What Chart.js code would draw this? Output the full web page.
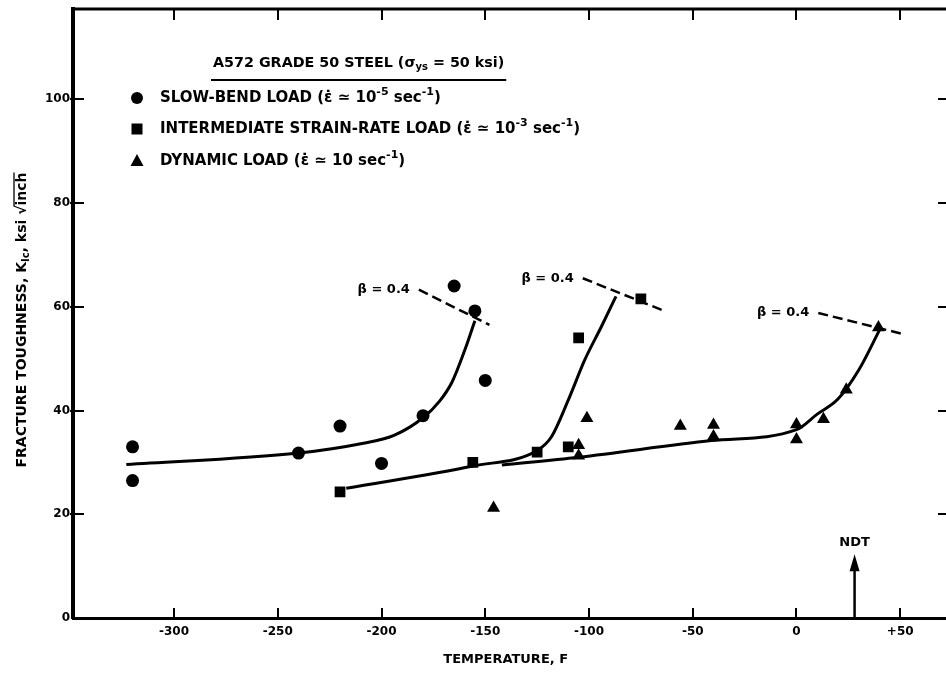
<!DOCTYPE html>
<html>
<head>
<meta charset="utf-8">
<script src="https://cdn.jsdelivr.net/npm/chart.js@4.4.1/dist/chart.umd.min.js"></script>
<style>
  body { margin: 0; background: #fff; }
  canvas { display: block; }
</style>
</head>
<body>
<canvas id="chartTenacidade" width="946" height="674"></canvas>
<script>
// temperatura (F) e tenacidade K_Ic (ksi sqrt(inch))
const slowTemp = [-320, -320, -240, -220, -200, -180, -165, -155, -150];
const slowK    = [33, 26.5, 31.8, 37, 29.8, 39, 64, 59.2, 45.8];

const interTemp = [-220, -156, -125, -110, -105, -75];
const interK    = [24.3, 30, 32, 33, 54, 61.5];

const dynTemp = [-146, -101, -105, -105, -56, -40, -40, 0, 0, 13, 24, 39.5];
const dynK    = [21.2, 38.5, 33.3, 31.3, 37, 37.2, 35, 37.3, 34.4, 38.3, 44, 56];

// curvas ajustadas (tracadas a mao na figura original)
const slowFitTemp = [-323, -240, -210, -194, -180, -172, -166, -160, -155];
const slowFitK    = [29.6, 31.8, 33.6, 35.2, 38.6, 41.8, 45.5, 51.5, 57.3];
const interFitTemp = [-217, -156, -125, -118, -110, -102, -94, -87];
const interFitK    = [25, 29.3, 32.3, 35, 42, 49.8, 56.2, 62];
const dynFitTemp = [-142, -105, -41, 0, 10, 20, 30, 40];
const dynFitK    = [29.5, 31, 34.2, 36.3, 39.3, 42.2, 47.8, 55.5];

// linhas tracejadas beta = 0.4
const beta1Temp = [-182, -148];
const beta1K    = [63.3, 56.5];
const beta2Temp = [-103, -65];
const beta2K    = [65.5, 59.4];
const beta3Temp = [10.5, 50.7];
const beta3K    = [58.8, 54.8];
const betaText = 'β = 0.4';

const ndtTemp = 28;
const xTicks = [-300, -250, -200, -150, -100, -50, 0, 50];
const yTicks = [0, 20, 40, 60, 80, 100];

const legendLabels = ['SLOW-BEND LOAD', 'INTERMEDIATE STRAIN-RATE LOAD', 'DYNAMIC LOAD'];
const legendExp = ['-5', '-3', ''];
const legendStyles = ['circle', 'rect', 'triangle'];

const FONTE = "'DejaVu Sans', 'Liberation Sans', sans-serif";

function pares(xs, ys) {
  return xs.map((v, i) => ({ x: v, y: ys[i] }));
}

function pontos(xs, ys, estilo, raio) {
  return {
    type: 'scatter',
    data: pares(xs, ys),
    pointStyle: estilo,
    pointRadius: raio,
    backgroundColor: '#000',
    borderColor: '#000',
    borderWidth: 0,
    order: 1
  };
}

function curva(xs, ys) {
  return {
    type: 'line',
    data: pares(xs, ys),
    borderColor: '#000',
    borderWidth: 3,
    pointRadius: 0,
    cubicInterpolationMode: 'monotone',
    fill: false,
    order: 2
  };
}

function tracejada(xs, ys) {
  return {
    type: 'line',
    data: pares(xs, ys),
    borderColor: '#000',
    borderWidth: 2.5,
    borderDash: [10, 5],
    pointRadius: 0,
    tension: 0,
    fill: false,
    order: 2,
    beta: true
  };
}

// desenha texto com partes sobrescritas/subscritas
function textoRico(ctx, partes, x, y, tam, medir) {
  let pos = x;
  partes.forEach(p => {
    const nivel = p[1] || 0;
    const fs = nivel ? Math.round(tam * 0.72) : tam;
    ctx.font = 'bold ' + fs + 'px ' + FONTE;
    const dy = nivel > 0 ? -tam * 0.38 : (nivel < 0 ? tam * 0.3 : 0);
    if (!medir) ctx.fillText(p[0], pos, y + dy);
    pos += ctx.measureText(p[0]).width;
  });
  return pos - x;
}

function marcador(ctx, estilo, x, y) {
  ctx.beginPath();
  if (estilo === 'circle') {
    ctx.arc(x, y, 6, 0, Math.PI * 2);
  } else if (estilo === 'rect') {
    ctx.rect(x - 5.5, y - 5.5, 11, 11);
  } else {
    ctx.moveTo(x, y - 7);
    ctx.lineTo(x + 6.5, y + 5);
    ctx.lineTo(x - 6.5, y + 5);
    ctx.closePath();
  }
  ctx.fill();
}

const moldura = {
  id: 'moldura',
  afterDraw(chart) {
    const ctx = chart.ctx;
    const sx = chart.scales.x, sy = chart.scales.y, area = chart.chartArea;
    const borda = chart.width; // a moldura continua ate a beira da figura
    ctx.save();
    ctx.strokeStyle = '#000';
    ctx.fillStyle = '#000';

    // borda superior e prolongamento do eixo x
    ctx.lineWidth = 3;
    ctx.beginPath();
    ctx.moveTo(area.left - 2, area.top);
    ctx.lineTo(borda, area.top);
    ctx.moveTo(area.right - 2, area.bottom + 0.5);
    ctx.lineTo(borda, area.bottom + 0.5);
    ctx.stroke();

    // marcas para dentro
    ctx.lineWidth = 2;
    sx.ticks.forEach(t => {
      const px = Math.round(sx.getPixelForValue(t.value));
      ctx.beginPath();
      ctx.moveTo(px, area.bottom);
      ctx.lineTo(px, area.bottom - 10);
      ctx.moveTo(px, area.top);
      ctx.lineTo(px, area.top + 11);
      ctx.stroke();
    });
    sy.ticks.forEach(t => {
      if (t.value === 0) return;
      const py = Math.round(sy.getPixelForValue(t.value));
      ctx.beginPath();
      ctx.moveTo(area.left - 3, py);
      ctx.lineTo(area.left + 11, py);
      ctx.moveTo(borda - 8, py);
      ctx.lineTo(borda, py);
      ctx.stroke();
    });

    // seta NDT
    const nx = sx.getPixelForValue(ndtTemp);
    const ny0 = sy.getPixelForValue(0);
    const ny1 = sy.getPixelForValue(12.3);
    ctx.lineWidth = 2.5;
    ctx.beginPath();
    ctx.moveTo(nx, ny0);
    ctx.lineTo(nx, ny1 + 10);
    ctx.stroke();
    ctx.beginPath();
    ctx.moveTo(nx, ny1);
    ctx.lineTo(nx + 5, ny1 + 17);
    ctx.lineTo(nx - 5, ny1 + 17);
    ctx.closePath();
    ctx.fill();
    ctx.font = 'bold 13px ' + FONTE;
    ctx.textAlign = 'center';
    ctx.textBaseline = 'middle';
    ctx.fillText('NDT', nx, sy.getPixelForValue(14.5));

    // rotulos beta = 0.4
    ctx.textAlign = 'right';
    chart.data.datasets.forEach(ds => {
      if (!ds.beta) return;
      const p = ds.data[0];
      ctx.fillText(betaText, sx.getPixelForValue(p.x) - 9, sy.getPixelForValue(p.y));
    });

    // legenda
    ctx.textAlign = 'left';
    const titulo = [['A572 GRADE 50 STEEL (σ'], ['ys', -1], [' = 50 ksi)']];
    const largT = textoRico(ctx, titulo, 213, 63, 14.3);
    ctx.lineWidth = 2;
    ctx.beginPath();
    ctx.moveTo(211, 80);
    ctx.lineTo(213 + largT + 2, 80);
    ctx.stroke();
    const linhasY = [98, 129, 161];
    legendLabels.forEach((lab, i) => {
      marcador(ctx, legendStyles[i], 137, linhasY[i]);
      const partes = [[lab + ' (ε̇ ≃ 10'], [legendExp[i], 1], [' sec'], ['-1', 1], [')']];
      textoRico(ctx, partes, 160, linhasY[i], 15);
    });

    // titulo do eixo y (rotacionado)
    const tituloY = [['FRACTURE TOUGHNESS, K'], ['Ic', -1], [', ksi √'], ['inch']];
    ctx.translate(22, 320);
    ctx.rotate(-Math.PI / 2);
    const largY = textoRico(ctx, tituloY, 0, 0, 14, true);
    const inicio = -largY / 2;
    const fim = inicio + textoRico(ctx, tituloY, inicio, 0, 14);
    ctx.font = 'bold 14px ' + FONTE;
    const largInch = ctx.measureText('inch').width;
    ctx.lineWidth = 1.3;
    ctx.beginPath();
    ctx.moveTo(fim - largInch - 1, -8);
    ctx.lineTo(fim, -8);
    ctx.stroke();
    ctx.restore();
  }
};

new Chart(document.getElementById('chartTenacidade'), {
  type: 'scatter',
  data: {
    datasets: [
      pontos(slowTemp, slowK, 'circle', 6.5),
      pontos(interTemp, interK, 'rect', 7.6),
      pontos(dynTemp, dynK, 'triangle', 7.5),
      curva(slowFitTemp, slowFitK),
      curva(interFitTemp, interFitK),
      curva(dynFitTemp, dynFitK),
      tracejada(beta1Temp, beta1K),
      tracejada(beta2Temp, beta2K),
      tracejada(beta3Temp, beta3K)
    ]
  },
  options: {
    responsive: false,
    animation: false,
    layout: { padding: { top: 9, left: 0, right: 0, bottom: 0 } },
    plugins: { legend: { display: false }, tooltip: { enabled: false } },
    scales: {
      x: {
        type: 'linear',
        min: -348.7,
        max: 68.4,
        afterFit: s => { s.height = 56; s.paddingLeft = 0; s.paddingRight = 0; },
        afterBuildTicks: s => { s.ticks = xTicks.map(v => ({ value: v })); },
        grid: { display: false, drawTicks: false },
        border: { display: true, width: 3, color: '#000' },
        ticks: {
          color: '#000',
          padding: 7,
          font: { family: FONTE, size: 12, weight: 'bold' },
          callback: v => (v > 0 ? '+' + v : '' + v)
        },
        title: {
          display: true,
          text: 'TEMPERATURE, F',
          color: '#000',
          font: { family: FONTE, size: 13, weight: 'bold' },
          padding: { top: 0, bottom: 7 }
        }
      },
      y: {
        type: 'linear',
        min: 0,
        max: 117.4,
        afterFit: s => { s.width = 73; s.paddingTop = 0; s.paddingBottom = 0; },
        afterBuildTicks: s => { s.ticks = yTicks.map(v => ({ value: v })); },
        grid: { display: false, drawTicks: false },
        border: { display: true, width: 4, color: '#000' },
        ticks: {
          color: '#000',
          padding: 3,
          font: { family: FONTE, size: 12, weight: 'bold' }
        }
      }
    }
  },
  plugins: [moldura]
});
</script>
</body>
</html>
